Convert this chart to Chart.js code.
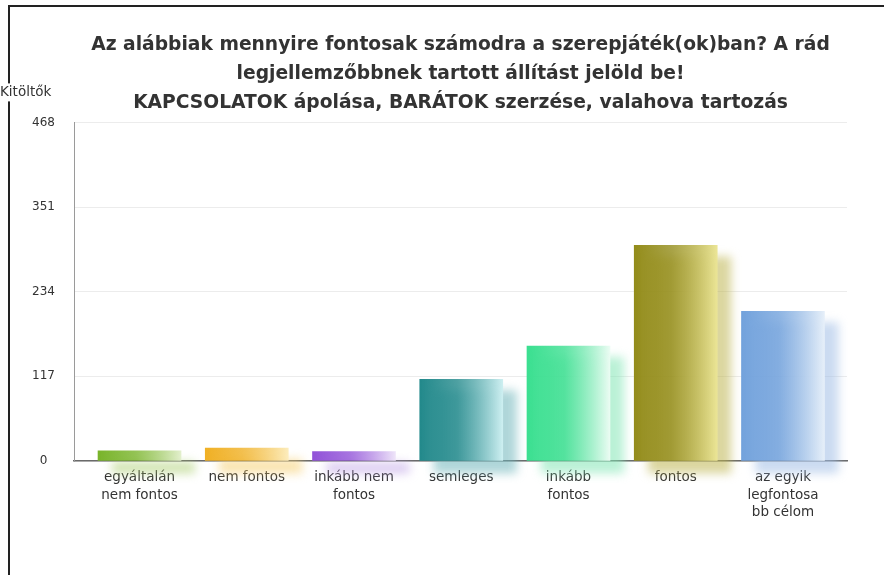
<!DOCTYPE html>
<html>
<head>
<meta charset="utf-8">
<script src="https://cdn.jsdelivr.net/npm/chart.js@4.4.1/dist/chart.umd.min.js"></script>
<style>
  html, body { margin: 0; padding: 0; background: #fff; }
  #wrap { position: relative; width: 884px; height: 575px; overflow: hidden; }
  #frame { position: absolute; left: 8px; top: 5px; width: 900px; height: 600px;
           border-left: 2px solid #222; border-top: 2px solid #222; pointer-events: none; }
  canvas { position: absolute; left: 0; top: 0; }
</style>
</head>
<body>
<div id="wrap">
  <div id="frame"></div>
  <canvas id="chart" width="884" height="575"></canvas>
</div>
<script>
// chart data
const titleLines = [
  'Az alábbiak mennyire fontosak számodra a szerepjáték(ok)ban? A rád',
  'legjellemzőbbnek tartott állítást jelöld be!',
  'KAPCSOLATOK ápolása, BARÁTOK szerzése, valahova tartozás'
];
const yAxisTitle = 'Kitöltők';
const categories = [
  ['egyáltalán', 'nem fontos'],
  'nem fontos',
  ['inkább nem', 'fontos'],
  'semleges',
  ['inkább', 'fontos'],
  'fontos',
  ['az egyik', 'legfontosa', 'bb célom']
];
const respondents = [14, 18, 13, 113, 159, 298, 207];
const yTicks = [0, 117, 234, 351, 468];

// bar colours: dark left edge -> light right edge
const darkColors  = ['#79b42a', '#f0b024', '#9152d8', '#22898b', '#3adf90', '#938c1a', '#72a2dc'];
const lightColors = ['#e2efcc', '#fcecbc', '#eee4f9', '#cdeff1', '#ebfcf3', '#ebe596', '#e6eff9'];
const shadowColors = ['rgba(170,205,110,0.55)', 'rgba(245,205,110,0.55)', 'rgba(190,160,230,0.55)',
                      'rgba(110,180,185,0.55)', 'rgba(130,230,180,0.55)', 'rgba(190,180,80,0.55)',
                      'rgba(160,190,230,0.55)'];

const FONT = '"DejaVu Sans", sans-serif';
const BAR_W = 83;

const barShadow = {
  id: 'barShadow',
  beforeDatasetDraw(chart, args) {
    const ctx = chart.ctx;
    const meta = args.meta;
    ctx.save();
    ctx.filter = 'blur(5px)';
    meta.data.forEach((bar, i) => {
      const h = bar.base - bar.y;
      ctx.fillStyle = shadowColors[i];
      ctx.fillRect(bar.x - BAR_W / 2 + 14, bar.y + 11, BAR_W, h + 2);
    });
    ctx.restore();
  }
};

const axisCaption = {
  id: 'axisCaption',
  afterDraw(chart) {
    const ctx = chart.ctx;
    const y = chart.scales.y;
    ctx.save();
    ctx.font = '13.5px ' + FONT;
    const w = ctx.measureText(yAxisTitle).width;
    ctx.fillStyle = '#fff';
    ctx.fillRect(0, y.top - 39, w + 3, 18);
    ctx.fillStyle = '#333';
    ctx.textAlign = 'left';
    ctx.textBaseline = 'middle';
    ctx.fillText(yAxisTitle, 0, y.top - 30);
    ctx.restore();
  }
};

new Chart(document.getElementById('chart'), {
  type: 'bar',
  data: {
    datasets: [{
      data: categories.map((c, i) => ({ x: i, y: respondents[i] })),
      barThickness: BAR_W,
      borderWidth: 0,
      backgroundColor: (c) => {
        const chart = c.chart;
        if (!chart.chartArea || c.dataIndex === undefined) return darkColors[0];
        const i = c.dataIndex;
        const x = chart.scales.x.getPixelForValue(i);
        const g = chart.ctx.createLinearGradient(x - BAR_W / 2, 0, x + BAR_W / 2, 0);
        g.addColorStop(0, darkColors[i]);
        g.addColorStop(0.45, darkColors[i] + 'cc');
        g.addColorStop(1, lightColors[i]);
        return g;
      }
    }]
  },
  options: {
    responsive: false,
    animation: false,
    layout: { padding: { left: 0, right: 37, top: 31, bottom: 0 } },
    plugins: {
      legend: { display: false },
      tooltip: { enabled: false },
      title: {
        display: true,
        fullSize: false,
        text: titleLines,
        color: '#333',
        font: { family: FONT, size: 18.7, weight: 'bold', lineHeight: 1.54 },
        padding: { top: 0, bottom: 5 }
      }
    },
    scales: {
      x: {
        type: 'linear',
        min: -0.611,
        max: 6.597,
        offset: false,
        grid: { display: false, drawTicks: false },
        border: { display: true, color: '#6a6a6a', width: 1.5 },
        afterFit: (s) => { s.height = 114; },
        afterBuildTicks: (s) => { s.ticks = categories.map((c, i) => ({ value: i })); },
        ticks: {
          autoSkip: false,
          maxRotation: 0,
          padding: 8,
          color: '#333',
          font: { family: FONT, size: 13.5, lineHeight: 1.3 },
          callback: (v) => categories[v] !== undefined ? categories[v] : ''
        }
      },
      y: {
        min: 0,
        max: 468,
        afterFit: (s) => { s.width = 74; },
        afterBuildTicks: (s) => { s.ticks = yTicks.map(v => ({ value: v })); },
        grid: { color: '#ececec', lineWidth: 1, drawTicks: false },
        border: { display: true, color: '#9a9a9a', width: 1 },
        ticks: {
          padding: 19,
          crossAlign: 'center',
          color: '#333',
          font: { family: FONT, size: 12 }
        }
      }
    }
  },
  plugins: [barShadow, axisCaption]
});
</script>
</body>
</html>
